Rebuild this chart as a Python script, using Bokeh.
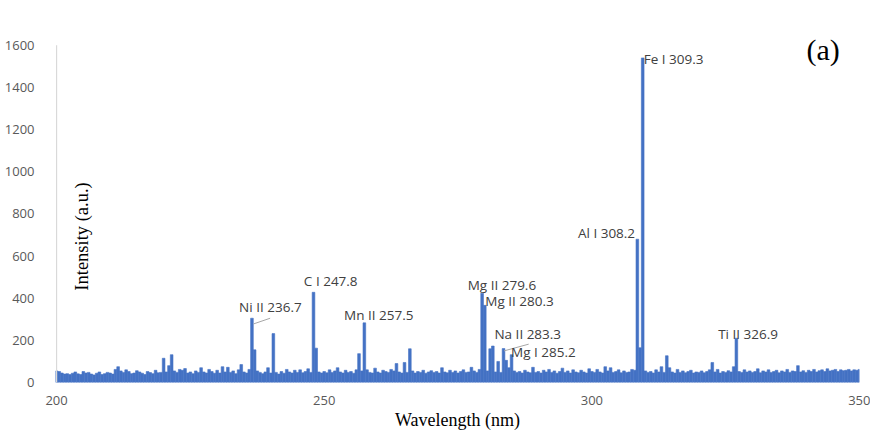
import numpy as np
from bokeh.plotting import figure
from bokeh.models import ColumnDataSource, Label, FixedTicker
from bokeh.core.properties import value
from bokeh.embed import file_html
from bokeh.resources import INLINE

# Spectrum sampled every 0.5 nm from 200 to 350 nm
wl_start, wl_step = 200.0, 0.5
intensity = [
    55, 52, 45, 40, 42, 38, 44, 50, 41, 38, 52, 45, 48, 40, 36, 44, 50, 38, 42, 48,      # 200-209.5
    45, 40, 62, 75, 55, 48, 60, 52, 42, 45, 56, 50, 44, 38, 52, 47, 42, 58, 46, 48,      # 210-219.5
    115, 50, 80, 132, 55, 48, 62, 58, 66, 45, 50, 42, 55, 48, 70, 50, 45, 62, 52, 44,    # 220-229.5
    58, 45, 75, 50, 72, 48, 55, 42, 60, 85, 50, 45, 62, 305, 155, 55, 48, 42, 50, 70,    # 230-239.5
    45, 232, 48, 40, 52, 44, 62, 50, 45, 58, 48, 60, 46, 52, 65, 48, 428, 163, 50, 45,   # 240-249.5
    52, 46, 60, 48, 55, 70, 50, 45, 58, 48, 52, 44, 60, 137, 55, 283, 60, 48, 45, 68,    # 250-259.5
    50, 45, 58, 52, 48, 62, 55, 90, 50, 45, 95, 48, 160, 55, 45, 52, 48, 58, 44, 50,     # 260-269.5
    56, 48, 52, 45, 70, 50, 46, 58, 48, 55, 45, 52, 60, 48, 50, 72, 55, 48, 62, 424,     # 270-279.5
    366, 55, 160, 173, 50, 100, 48, 161, 105, 70, 132, 55, 48, 52, 45, 58, 50, 46, 72, 48,  # 280-289.5
    52, 45, 58, 50, 62, 48, 55, 44, 52, 68, 48, 55, 45, 60, 50, 46, 58, 50, 45, 65,      # 290-299.5
    52, 48, 62, 50, 45, 75, 55, 70, 48, 52, 60, 46, 55, 48, 50, 62, 58, 680, 165, 1540,  # 300-309.5
    55, 48, 52, 45, 60, 50, 75, 48, 127, 70, 50, 45, 62, 48, 55, 46, 52, 58, 45, 50,     # 310-319.5
    48, 55, 46, 52, 60, 95, 50, 62, 45, 52, 48, 56, 50, 75, 210, 52, 48, 60, 50, 55,     # 320-329.5
    48, 52, 65, 46, 55, 50, 60, 48, 52, 58, 46, 55, 50, 62, 48, 55, 52, 80, 50, 56,      # 330-339.5
    48, 58, 52, 62, 50, 56, 60, 52, 65, 55, 58, 62, 52, 60, 56, 58, 62, 55, 60, 58,      # 340-349.5
    62,                                                                                  # 350
]
wavelength = [wl_start + wl_step * i for i in range(len(intensity))]

# Peak annotations
peak_labels = ["Ni II 236.7", "C I 247.8", "Mn II 257.5", "Mg II 279.6", "Mg II 280.3",
               "Na II 283.3", "Mg I 285.2", "Al I 308.2", "Fe I 309.3", "Ti II 326.9"]
label_x = [234.1, 246.2, 253.7, 276.8, 280.1, 281.8, 284.9, 297.4, 309.7, 323.6]
label_y = [360, 483, 319, 465, 387, 228, 146, 711, 1536, 232]

# Leader lines (Ni II and Mg I)
leader_x0 = [236.8, 283.6]
leader_y0 = [278, 150]
leader_x1 = [239.9, 288.2]
leader_y1 = [305, 182]

x_ticks = [200, 250, 300, 350]
y_ticks = [0, 200, 400, 600, 800, 1000, 1200, 1400, 1600]
y_axis_top = 1600

blue = "#4472C4"

p = figure(width=870, height=432, output_backend="svg", toolbar_location=None,
           x_range=(199.8, 350), y_range=(0, 1694),
           min_border_left=55, min_border_right=11, min_border_top=25, min_border_bottom=48)
p.outline_line_color = None
p.xgrid.grid_line_color = None
p.ygrid.grid_line_color = None

src = ColumnDataSource(dict(x=wavelength, y=intensity))
p.vbar(x="x", top="y", width=wl_step, bottom=0, source=src,
       fill_color=blue, line_color=blue, line_width=0.6)

# light gray vertical axis line from 0 to 1600
p.segment(x0=[x_ticks[0]], y0=[0], x1=[x_ticks[0]], y1=[y_axis_top],
          line_color="#d9d9d9", line_width=1.2)

p.segment(x0=leader_x0, y0=leader_y0, x1=leader_x1, y1=leader_y1,
          line_color="#a6a6a6", line_width=1)

lsrc = ColumnDataSource(dict(x=label_x, y=label_y, t=peak_labels))
p.text(x="x", y="y", text="t", source=lsrc, text_font=value("Open Sans"),
       text_font_size="13.5px", text_color="#404040",
       text_align="left", text_baseline="middle")

for ax in (p.xaxis[0], p.yaxis[0]):
    ax.major_tick_line_color = None
    ax.minor_tick_line_color = None
    ax.axis_line_color = None
    ax.major_label_text_font = "Open Sans"
    ax.major_label_text_font_size = "13px"
    ax.major_label_text_color = "#595959"

p.xaxis.ticker = FixedTicker(ticks=x_ticks)
p.yaxis.ticker = FixedTicker(ticks=y_ticks)
p.yaxis.major_label_standoff = 15
p.xaxis.major_label_standoff = 7

p.xaxis.axis_label = "Wavelength (nm)"
p.xaxis.axis_label_text_font = "Liberation Serif"
p.xaxis.axis_label_text_font_size = "18px"
p.xaxis.axis_label_text_font_style = "normal"
p.xaxis.axis_label_text_color = "black"
p.xaxis.axis_label_standoff = 2

p.add_layout(Label(x=204.7, y=693, text="Intensity (a.u.)", angle=np.pi / 2,
                   text_font="Liberation Serif", text_font_size="18.5px",
                   text_color="black", text_align="center", text_baseline="middle"))
p.add_layout(Label(x=343.2, y=1582, text="(a)",
                   text_font="Liberation Serif", text_font_size="30px",
                   text_color="black", text_align="center", text_baseline="middle"))

open("out.html", "w").write(file_html(p, INLINE))
